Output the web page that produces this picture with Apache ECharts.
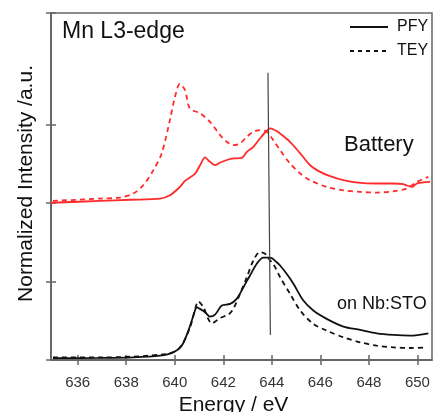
<!DOCTYPE html>
<html>
<head>
<meta charset="utf-8">
<script src="https://cdn.jsdelivr.net/npm/echarts@6/dist/echarts.min.js"></script>
<style>
  html, body { margin: 0; padding: 0; background: #fff; }
  #chart { width: 436px; height: 412px; }
</style>
</head>
<body>
<div id="chart"></div>
<script>
// 数据
var energyPfyBat = [634.9, 636.92, 638.16, 639.39, 639.80, 640.21, 640.42, 640.84, 641.04, 641.25, 641.38, 641.66, 641.87, 642.21, 642.41, 642.76, 642.97, 643.24, 643.51, 643.79, 643.93, 644.20, 644.34, 644.75, 645.17, 645.58, 645.99, 646.40, 646.94, 647.64, 648.32, 649.00, 649.41, 649.77, 649.97, 650.52];
var pfyBat = [2.003, 2.026, 2.041, 2.056, 2.098, 2.204, 2.281, 2.375, 2.481, 2.580, 2.545, 2.481, 2.516, 2.554, 2.567, 2.575, 2.651, 2.715, 2.822, 2.920, 2.950, 2.916, 2.886, 2.779, 2.631, 2.481, 2.396, 2.341, 2.290, 2.255, 2.248, 2.248, 2.239, 2.204, 2.248, 2.268];

var energyTeyBat = [634.98, 636.92, 637.74, 638.29, 638.70, 639.12, 639.46, 639.80, 640.01, 640.21, 640.42, 640.62, 641.04, 641.45, 641.87, 642.14, 642.41, 642.69, 642.97, 643.24, 643.51, 643.79, 644.06, 644.34, 644.75, 645.17, 645.58, 646.26, 646.95, 647.64, 648.32, 649.01, 649.56, 649.97, 650.45];
var teyBat = [2.026, 2.056, 2.069, 2.120, 2.226, 2.418, 2.631, 3.056, 3.354, 3.516, 3.439, 3.206, 3.142, 3.034, 2.865, 2.779, 2.737, 2.759, 2.843, 2.907, 2.928, 2.907, 2.801, 2.673, 2.503, 2.375, 2.290, 2.204, 2.162, 2.141, 2.133, 2.149, 2.184, 2.268, 2.332];

var energyPfySto = [634.98, 636.92, 638.29, 639.39, 639.94, 640.29, 640.56, 640.77, 640.91, 641.04, 641.25, 641.45, 641.66, 641.94, 642.28, 642.55, 642.83, 643.10, 643.38, 643.65, 643.93, 644.20, 644.34, 644.61, 644.89, 645.30, 645.71, 646.26, 646.95, 647.64, 648.32, 649.01, 649.70, 650.45];
var pfySto = [0.023, 0.026, 0.033, 0.055, 0.097, 0.183, 0.374, 0.566, 0.672, 0.651, 0.608, 0.553, 0.579, 0.693, 0.715, 0.779, 0.927, 1.077, 1.226, 1.303, 1.303, 1.246, 1.204, 1.098, 0.971, 0.757, 0.630, 0.524, 0.425, 0.383, 0.340, 0.319, 0.310, 0.340];

var energyTeySto = [634.98, 636.92, 639.67, 640.22, 640.63, 640.84, 640.97, 641.18, 641.38, 641.52, 641.87, 642.21, 642.41, 642.69, 642.97, 643.24, 643.51, 643.72, 643.93, 644.06, 644.34, 644.75, 645.17, 645.71, 646.26, 646.95, 647.64, 648.32, 649.01, 649.70, 650.39];
var teySto = [0.033, 0.033, 0.077, 0.161, 0.416, 0.651, 0.748, 0.672, 0.524, 0.467, 0.536, 0.579, 0.651, 0.843, 1.055, 1.268, 1.374, 1.354, 1.268, 1.226, 1.055, 0.843, 0.630, 0.460, 0.374, 0.289, 0.225, 0.183, 0.161, 0.153, 0.161];

// 竖线
var markerE = [643.84, 643.94];
var markerI = [3.66, 0.32];

var xTicks = [636, 638, 640, 642, 644, 646, 648, 650];
var yTicks = [0, 1, 2, 3, 4.42];

function zip(xs, ys) {
    return xs.map(function(x, i) { return [x, ys[i]]; });
}

var font = "'Liberation Sans', Arial, sans-serif";
var axisGray = '#666';
var red = '#ff2a2a';

var myChart = echarts.init(document.getElementById('chart'));

var xBase = {
    type: 'value',
    min: 634.9,
    max: 650.6,
    splitLine: { show: false },
    axisLine: { show: true, lineStyle: { color: axisGray, width: 1.5 } }
};
var yBase = {
    type: 'value',
    min: 0,
    max: 4.42,
    splitLine: { show: false },
    axisLabel: { show: false },
    axisLine: { show: true, lineStyle: { color: axisGray, width: 1.5 } }
};

var option = {
    animation: false,
    textStyle: { fontFamily: font },
    grid: {
        left: 51, right: 4, top: 13, bottom: 52,
        outerBoundsMode: 'none',
        show: true,
        borderColor: axisGray,
        borderWidth: 1.5
    },
    legend: {
        data: ['PFY', 'TEY'],
        orient: 'vertical',
        left: 344,
        top: 14,
        itemWidth: 38,
        itemHeight: 14,
        itemGap: 8,
        itemStyle: { opacity: 0 },
        textStyle: { fontSize: 16, color: '#111', fontFamily: font, padding: [0, 0, 0, 4] }
    },
    xAxis: [
        Object.assign({}, xBase, {
            position: 'bottom',
            name: 'Energy / eV',
            nameLocation: 'middle',
            nameGap: 29,
            nameTextStyle: { fontSize: 21, color: '#111', padding: [0, 16, 0, 0] },
            axisTick: { show: true, inside: false, length: 5, customValues: xTicks, lineStyle: { color: axisGray, width: 1.5 } },
            axisLabel: { show: true, customValues: xTicks, margin: 15, fontSize: 15, color: '#333' }
        }),
        Object.assign({}, xBase, {
            position: 'bottom',
            axisTick: { show: true, inside: true, length: 5, customValues: xTicks, lineStyle: { color: axisGray, width: 1.5 } },
            axisLabel: { show: false }
        })
    ],
    yAxis: [
        Object.assign({}, yBase, {
            position: 'left',
            name: 'Normalized Intensity /a.u.',
            nameLocation: 'middle',
            nameGap: 14,
            nameTextStyle: { fontSize: 21, color: '#111', padding: [0, 0, 0, 6] },
            axisTick: { show: true, inside: false, length: 5, customValues: yTicks, lineStyle: { color: axisGray, width: 1.5 } }
        }),
        Object.assign({}, yBase, {
            position: 'left',
            axisTick: { show: true, inside: true, length: 5, customValues: yTicks, lineStyle: { color: axisGray, width: 1.5 } }
        })
    ],
    graphic: [
        { type: 'text', left: 62, top: 20, style: { text: 'Mn L3-edge', font: '23px ' + font, fill: '#111' } },
        { type: 'text', left: 344, top: 134, style: { text: 'Battery', font: '22px ' + font, fill: '#111' } },
        { type: 'text', left: 337, top: 295, style: { text: 'on Nb:STO', font: '18px ' + font, fill: '#111' } }
    ],
    series: [
        {
            name: 'PFY', type: 'line', data: [], symbol: 'none', symbolSize: 0,
            lineStyle: { color: '#111', width: 1.5 }, itemStyle: { color: '#111' }
        },
        {
            name: 'TEY', type: 'line', data: [], symbol: 'none', symbolSize: 0,
            lineStyle: { color: '#111', width: 1.5, type: [4, 4] }, itemStyle: { color: '#111' }
        },
        {
            name: 'PFY Battery', type: 'line', data: zip(energyPfyBat, pfyBat),
            symbol: 'none', smooth: 0.3,
            lineStyle: { color: red, width: 1.8 }
        },
        {
            name: 'TEY Battery', type: 'line', data: zip(energyTeyBat, teyBat),
            symbol: 'none', smooth: 0.3,
            lineStyle: { color: red, width: 1.8, type: [5, 4] }
        },
        {
            name: 'PFY STO', type: 'line', data: zip(energyPfySto, pfySto),
            symbol: 'none', smooth: 0.3,
            lineStyle: { color: '#111', width: 1.8 }
        },
        {
            name: 'TEY STO', type: 'line', data: zip(energyTeySto, teySto),
            symbol: 'none', smooth: 0.3,
            lineStyle: { color: '#111', width: 1.8, type: [5, 4] }
        },
        {
            name: 'marker', type: 'line', data: zip(markerE, markerI),
            symbol: 'none', z: 5,
            lineStyle: { color: '#444', width: 1.2 }
        }
    ]
};

myChart.setOption(option);
</script>
</body>
</html>
